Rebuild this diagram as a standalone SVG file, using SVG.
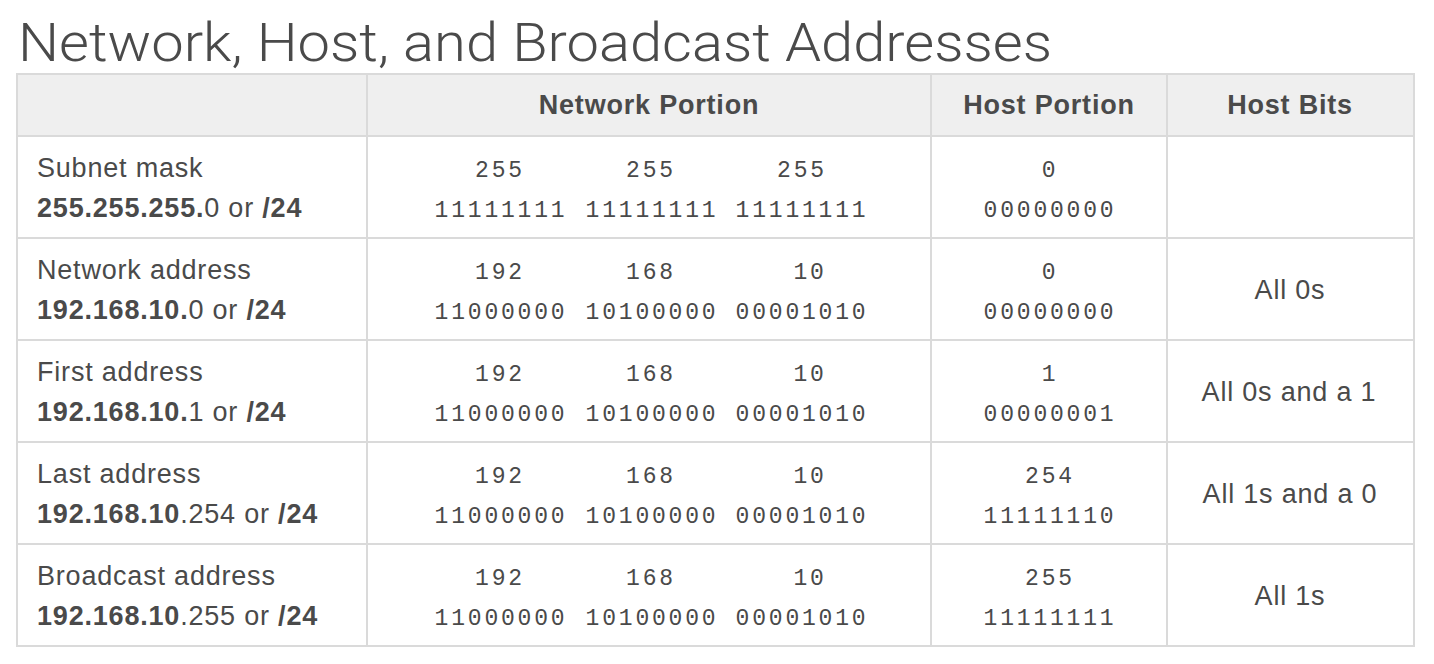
<svg xmlns="http://www.w3.org/2000/svg" width="1434" height="664" viewBox="0 0 1434 664">
<style>
.t{font-family:"Liberation Sans",Arial,sans-serif;fill:#4a4a4a;font-size:27px;letter-spacing:0.8px}
.b{font-weight:bold}
.h{font-family:"Liberation Sans",Arial,sans-serif;fill:#4a4a4a;font-size:27px;letter-spacing:0.8px;font-weight:bold;text-anchor:middle}
.m{font-family:"Liberation Mono","Courier New",monospace;fill:#4a4a4a;font-size:23px;letter-spacing:2.8px;text-anchor:middle}
.c{text-anchor:middle}
.ln{stroke:#dadada;stroke-width:2;fill:none}
</style>
<rect width="1434" height="664" fill="#ffffff"/>
<text x="18" y="61" font-family="Roboto,'Liberation Sans',sans-serif" font-weight="300" font-size="54" fill="#4a4a4a" textLength="1034" lengthAdjust="spacingAndGlyphs">Network, Host, and Broadcast Addresses</text>
<g id="table">
<rect x="17" y="74" width="1397" height="62" fill="#efefef"/>
<rect x="17" y="74" width="1397" height="572" class="ln"/>
<g id="grid" class="ln">
<line x1="17" y1="136" x2="1414" y2="136"/>
<line x1="17" y1="238" x2="1414" y2="238"/>
<line x1="17" y1="340" x2="1414" y2="340"/>
<line x1="17" y1="442" x2="1414" y2="442"/>
<line x1="17" y1="544" x2="1414" y2="544"/>
<line x1="367" y1="74" x2="367" y2="646"/>
<line x1="931" y1="74" x2="931" y2="646"/>
<line x1="1167" y1="74" x2="1167" y2="646"/>
</g>
</g>
<g id="header">
<text class="h" x="649" y="114">Network Portion</text>
<text class="h" x="1049" y="114">Host Portion</text>
<text class="h" x="1290" y="114">Host Bits</text>
</g>
<g id="row-subnet">
<text class="t" x="37" y="177">Subnet mask</text>
<text class="t" x="37" y="217"><tspan class="b">255.255.255.</tspan>0 or <tspan class="b">/24</tspan></text>
<text class="m" x="500" y="177">255</text><text class="m" x="651" y="177">255</text><text class="m" x="802" y="177">255</text>
<text class="m" x="501" y="217">11111111</text><text class="m" x="652" y="217">11111111</text><text class="m" x="802" y="217">11111111</text>
<text class="m" x="1050" y="177">0</text><text class="m" x="1050" y="217">00000000</text>
</g>
<g id="row-network">
<text class="t" x="37" y="279">Network address</text>
<text class="t" x="37" y="319"><tspan class="b">192.168.10.</tspan>0 or <tspan class="b">/24</tspan></text>
<text class="m" x="500" y="279">192</text><text class="m" x="651" y="279">168</text><text class="m" x="810" y="279">10</text>
<text class="m" x="501" y="319">11000000</text><text class="m" x="652" y="319">10100000</text><text class="m" x="802" y="319">00001010</text>
<text class="m" x="1050" y="279">0</text><text class="m" x="1050" y="319">00000000</text>
<text class="t c" x="1290" y="299">All 0s</text>
</g>
<g id="row-first">
<text class="t" x="37" y="381">First address</text>
<text class="t" x="37" y="421"><tspan class="b">192.168.10.</tspan>1 or <tspan class="b">/24</tspan></text>
<text class="m" x="500" y="381">192</text><text class="m" x="651" y="381">168</text><text class="m" x="810" y="381">10</text>
<text class="m" x="501" y="421">11000000</text><text class="m" x="652" y="421">10100000</text><text class="m" x="802" y="421">00001010</text>
<text class="m" x="1050" y="381">1</text><text class="m" x="1050" y="421">00000001</text>
<text class="t c" x="1289" y="401">All 0s and a 1</text>
</g>
<g id="row-last">
<text class="t" x="37" y="483">Last address</text>
<text class="t" x="37" y="523"><tspan class="b">192.168.10</tspan>.254 or <tspan class="b">/24</tspan></text>
<text class="m" x="500" y="483">192</text><text class="m" x="651" y="483">168</text><text class="m" x="810" y="483">10</text>
<text class="m" x="501" y="523">11000000</text><text class="m" x="652" y="523">10100000</text><text class="m" x="802" y="523">00001010</text>
<text class="m" x="1050" y="483">254</text><text class="m" x="1050" y="523">11111110</text>
<text class="t c" x="1290" y="503">All 1s and a 0</text>
</g>
<g id="row-broadcast">
<text class="t" x="37" y="585">Broadcast address</text>
<text class="t" x="37" y="625"><tspan class="b">192.168.10</tspan>.255 or <tspan class="b">/24</tspan></text>
<text class="m" x="500" y="585">192</text><text class="m" x="651" y="585">168</text><text class="m" x="810" y="585">10</text>
<text class="m" x="501" y="625">11000000</text><text class="m" x="652" y="625">10100000</text><text class="m" x="802" y="625">00001010</text>
<text class="m" x="1050" y="585">255</text><text class="m" x="1050" y="625">11111111</text>
<text class="t c" x="1290" y="605">All 1s</text>
</g>
</svg>
